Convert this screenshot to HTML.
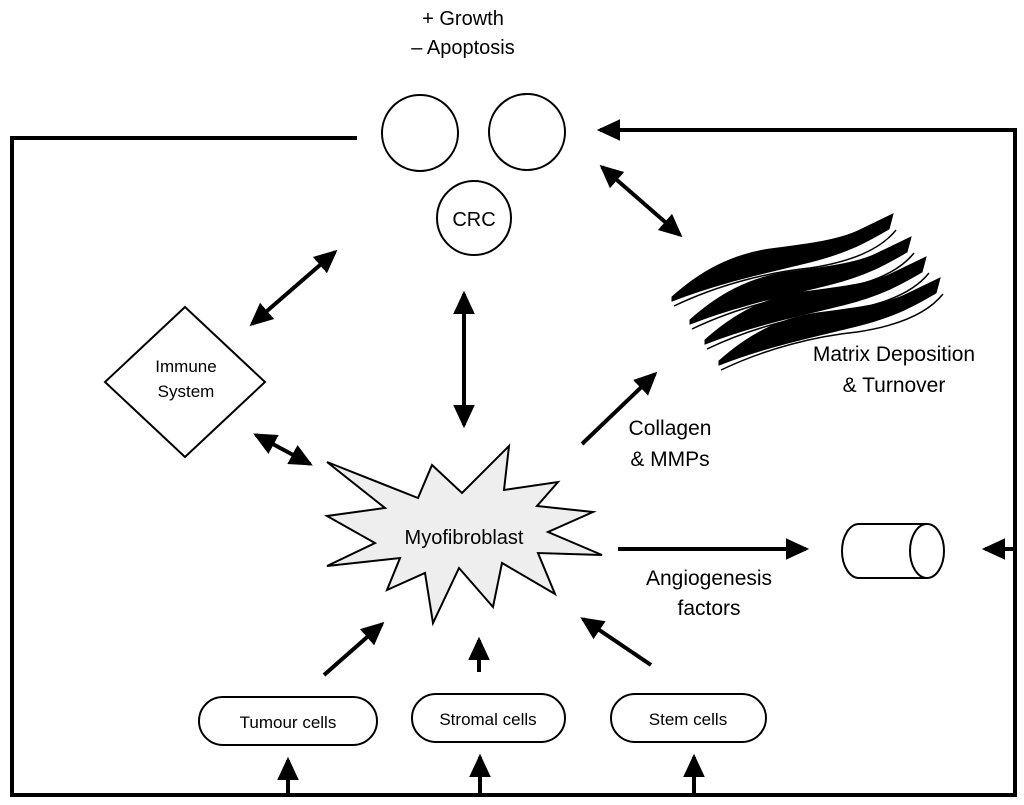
<!DOCTYPE html>
<html><head><style>
body{margin:0;background:#fff}
svg{display:block}
text{font-family:"Liberation Sans",sans-serif;fill:#000}
</style></head><body>
<svg width="1024" height="805" viewBox="0 0 1024 805">
<defs>
<marker id="a" markerWidth="6" markerHeight="6" refX="5" refY="3" orient="auto-start-reverse" markerUnits="strokeWidth"><path d="M0,0.3 L5.8,3 L0,5.7 z" fill="#000"/></marker>
<g id="fib">
<path d="M672,297 C700,272 730,255 770,249 C810,244 840,240 860,230 L893,214 L889,229 C870,240 850,252 810,262 C770,272 720,282 672,301 Z" fill="#000" stroke="#000" stroke-width="1"/>
<path d="M674,306 C720,284 770,272 810,268 C850,262 880,250 896,230" fill="none" stroke="#000" stroke-width="1.5"/>
</g>
</defs>
<g stroke="#000" fill="none" stroke-width="2">
<circle cx="420" cy="133" r="38"/>
<circle cx="527" cy="132" r="38"/>
<circle cx="474" cy="218" r="37"/>
<polygon points="185,307 265,382 185,457 105,382"/>
<rect x="199" y="697" width="178" height="48" rx="24"/>
<rect x="412" y="694" width="153" height="48" rx="24"/>
<rect x="611" y="694" width="155" height="48" rx="24"/>
<path d="M859,524 H927 M859,578 H927 M859,524 A17,27 0 0 0 859,578"/>
<ellipse cx="927" cy="551" rx="17" ry="27"/>
</g>
<polygon fill="#eee" stroke="#000" stroke-width="2" points="327,462 418,498 432,465 462,493 509,446 504,490 558,482 537,506 593,512 548,532 602,555 538,553 555,594 502,563 493,607 459,568 433,623 425,573 387,590 400,558 327,566 375,543 327,516 385,508"/>
<g stroke="#000" stroke-width="4" fill="none">
<path d="M357,138 H12 V795 H1015 V549 H985" />
<path d="M1015,549 V130 H600" marker-end="url(#a)"/>
<path d="M288,795 V760" marker-end="url(#a)"/>
<path d="M480,795 V757" marker-end="url(#a)"/>
<path d="M694,795 V757" marker-end="url(#a)"/>
<path d="M1015,549 H985" marker-end="url(#a)"/>
<path d="M252,324 L335,252" marker-start="url(#a)" marker-end="url(#a)"/>
<path d="M464,294 V425" marker-start="url(#a)" marker-end="url(#a)"/>
<path d="M602,167 L680,235" marker-start="url(#a)" marker-end="url(#a)"/>
<path d="M256,435 L310,464" marker-start="url(#a)" marker-end="url(#a)"/>
<path d="M582,444 L655,374" marker-end="url(#a)"/>
<path d="M618,549 H806" marker-end="url(#a)"/>
<path d="M324,675 L382,624" marker-end="url(#a)"/>
<path d="M479,672 V640" marker-end="url(#a)"/>
<path d="M651,665 L583,619" marker-end="url(#a)"/>
</g>
<use href="#fib"/>
<use href="#fib" transform="translate(18,23)"/>
<use href="#fib" transform="translate(33,43)"/>
<use href="#fib" transform="translate(47,64)"/>
<g font-size="20" text-anchor="middle">
<text x="463" y="25">+ Growth</text>
<text x="463" y="54">– Apoptosis</text>
<text x="474" y="226">CRC</text>
<text x="894" y="361" font-size="21">Matrix Deposition</text>
<text x="894" y="392" font-size="21">&amp; Turnover</text>
<text x="670" y="435" font-size="21">Collagen</text>
<text x="670" y="466" font-size="21">&amp; MMPs</text>
<text x="464" y="544" font-size="20">Myofibroblast</text>
<text x="709" y="585" font-size="21">Angiogenesis</text>
<text x="709" y="615" font-size="21">factors</text>
<text x="186" y="372" font-size="17">Immune</text>
<text x="186" y="397" font-size="17">System</text>
<text x="288" y="728" font-size="17">Tumour cells</text>
<text x="488" y="725" font-size="17">Stromal cells</text>
<text x="688" y="725" font-size="17">Stem cells</text>
</g>
</svg>
</body></html>
